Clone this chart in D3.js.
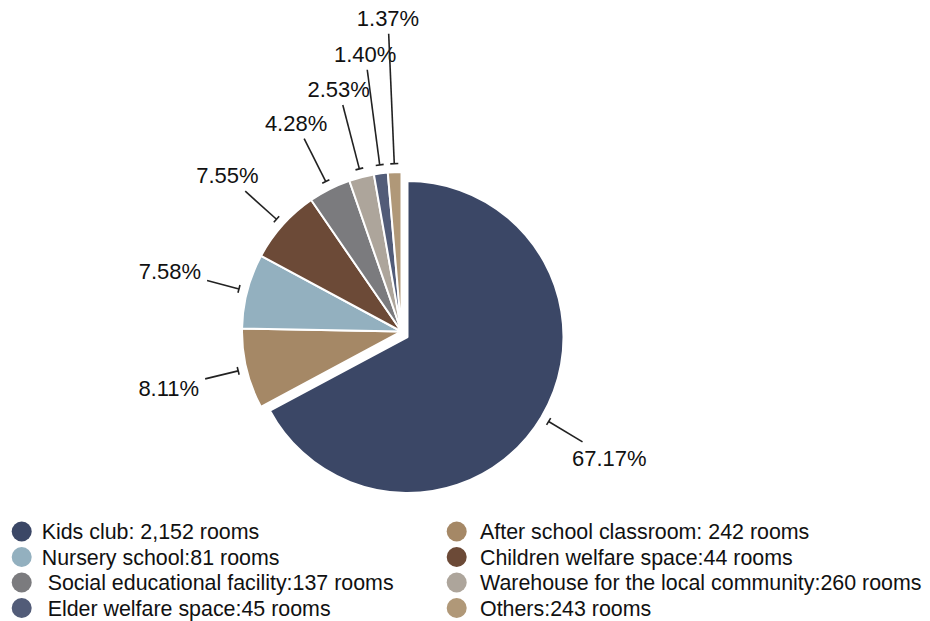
<!DOCTYPE html>
<html>
<head>
<meta charset="utf-8">
<script src="https://cdn.jsdelivr.net/npm/d3@7/dist/d3.min.js"></script>
<style>
  html, body { margin: 0; padding: 0; background: #fff; }
  svg { display: block; }
  text { font-family: "Liberation Sans", Arial, Helvetica, sans-serif; fill: #111; }
</style>
</head>
<body>
<svg id="chart" width="930" height="621"></svg>
<script>
// ---- data ----
const categories = [
  "Kids club: 2,152 rooms",
  "After school classroom: 242 rooms",
  "Nursery school:81 rooms",
  "Children welfare space:44 rooms",
  " Social educational facility:137 rooms",
  "Warehouse for the local community:260 rooms",
  " Elder welfare space:45 rooms",
  "Others:243 rooms"
];
const shares = [67.17, 8.11, 7.58, 7.55, 4.28, 2.53, 1.40, 1.37];
const shareLabels = ["67.17%", "8.11%", "7.58%", "7.55%", "4.28%", "2.53%", "1.40%", "1.37%"];
const colors = ["#3b4766", "#a58866", "#93b0bf", "#6c4a37", "#7b7b7e", "#ada59b", "#525c78", "#b09878"];

// ---- layout ----
const center = { x: 401.5, y: 331.5 };
const radius = 159.5;
const explodedIndex = 0;
const explodeOffset = { x: 6, y: 5.5 };
const explodedRadius = 156;
const labelRadius = [204, 202, 201, 210, 216, 234, 264, 298];
const fontSize = 22;
const legendFontSize = 21.4;

const svg = d3.select("#chart");

const pie = d3.pie().sort(null).value(d => d).startAngle(0).endAngle(2 * Math.PI);
const arcs = pie(shares);

const g = svg.append("g");

arcs.forEach((a, i) => {
  const isEx = i === explodedIndex;
  const cx = center.x + (isEx ? explodeOffset.x : 0);
  const cy = center.y + (isEx ? explodeOffset.y : 0);
  const r = isEx ? explodedRadius : radius;
  const arcGen = d3.arc().innerRadius(0).outerRadius(r);
  g.append("path")
    .attr("transform", `translate(${cx},${cy})`)
    .attr("d", arcGen(a))
    .attr("fill", colors[i])
    .attr("stroke", "#fff")
    .attr("stroke-width", 2)
    .attr("stroke-linejoin", "round");

  // leader line
  const mid = (a.startAngle + a.endAngle) / 2;
  const dx = Math.sin(mid), dy = -Math.cos(mid);
  const r1 = r + 8.5;
  const r2 = labelRadius[i];
  const x1 = cx + dx * r1, y1 = cy + dy * r1;
  const x2 = cx + dx * r2, y2 = cy + dy * r2;
  g.append("line")
    .attr("x1", x1).attr("y1", y1).attr("x2", x2).attr("y2", y2)
    .attr("stroke", "#222").attr("stroke-width", 1.6);
  // end tick (perpendicular)
  const px = -dy, py = dx, tl = 4;
  g.append("line")
    .attr("x1", x1 - px * tl).attr("y1", y1 - py * tl)
    .attr("x2", x1 + px * tl).attr("y2", y1 + py * tl)
    .attr("stroke", "#222").attr("stroke-width", 1.6);

  // label
  const t = g.append("text")
    .attr("font-size", fontSize)
    .attr("text-anchor", "middle")
    .text(shareLabels[i]);
  const w = t.node().getComputedTextLength();
  const halfW = w / 2 + 6, halfH = 16;
  const d = Math.min(Math.abs(dx) > 1e-6 ? halfW / Math.abs(dx) : Infinity,
                     Math.abs(dy) > 1e-6 ? halfH / Math.abs(dy) : Infinity);
  const lx = x2 + dx * d, ly = y2 + dy * d;
  t.attr("x", lx).attr("y", ly + fontSize * 0.36);
});

// ---- legend ----
const legend = svg.append("g");
const legendCols = [21.7, 456.7];
const legendTextX = [41.7, 480];
const legendRowY0 = 531.5, legendRowStep = 25.5;
categories.forEach((c, i) => {
  const col = i % 2, row = Math.floor(i / 2);
  const y = legendRowY0 + row * legendRowStep;
  legend.append("circle")
    .attr("cx", legendCols[col]).attr("cy", y).attr("r", 10)
    .attr("fill", colors[i]);
  legend.append("text")
    .attr("x", legendTextX[col]).attr("y", y + legendFontSize * 0.36)
    .attr("font-size", legendFontSize)
    .style("white-space", "pre")
    .attr("xml:space", "preserve")
    .text(c);
});
</script>
</body>
</html>
